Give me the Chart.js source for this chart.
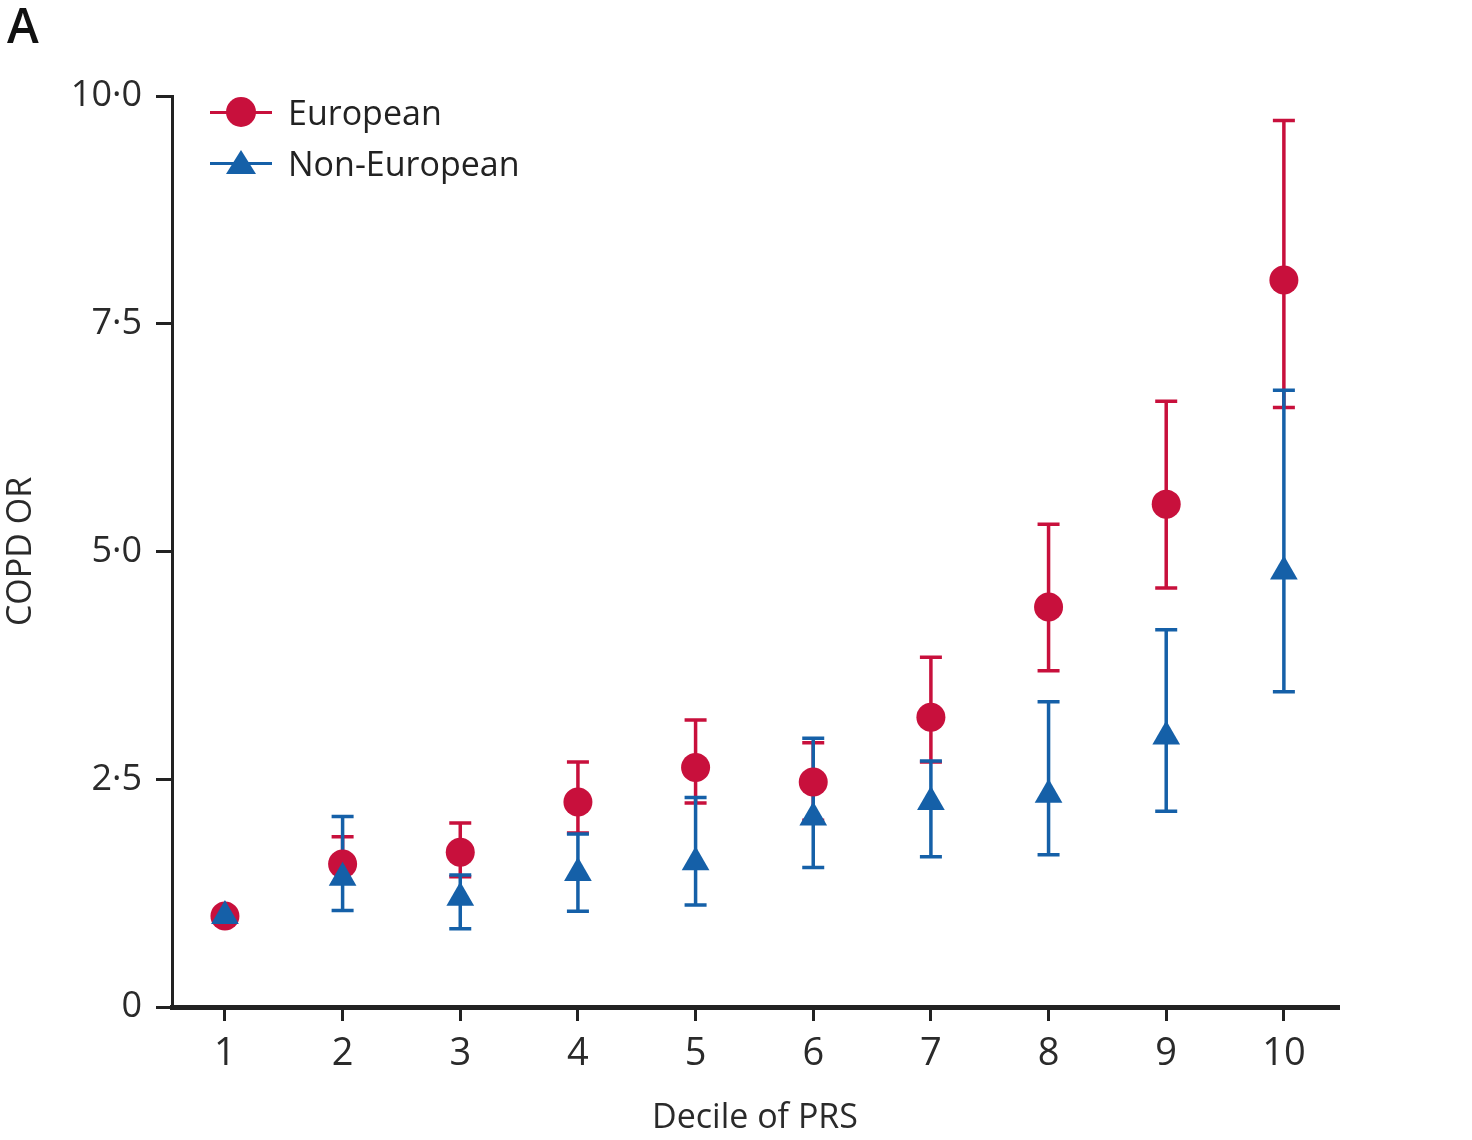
<!DOCTYPE html>
<html>
<head>
<meta charset="utf-8">
<script src="https://cdn.jsdelivr.net/npm/chart.js@4.4.1/dist/chart.umd.min.js"></script>
<style>
  html, body { margin: 0; padding: 0; background: #fff; }
  #wrap { position: relative; width: 1472px; height: 1140px; }
  #panel { position: absolute; left: 7px; top: 1px; font: 600 48px "Open Sans"; line-height: 1; color: #111; }
  #legend { position: absolute; left: 210px; top: 86px; font: 34px "Open Sans"; color: #222; }
  .item { position: relative; height: 51px; display: flex; align-items: center; }
  .key { position: relative; width: 62px; height: 40px; margin-right: 16px; }
  .key .line { position: absolute; left: 0; right: 0; top: 19px; height: 3px; }
  .key .dot { position: absolute; left: 16px; top: 5px; width: 30px; height: 30px; border-radius: 50%; }
  .key .tri { position: absolute; left: 16px; top: 7px; width: 0; height: 0;
              border-left: 15px solid transparent; border-right: 15px solid transparent; border-bottom: 24px solid #1560a8; }
</style>
</head>
<body>
<div id="wrap">
  <canvas id="chart" width="1472" height="1140"></canvas>
  <div id="panel">A</div>
  <div id="legend">
    <div class="item"><div class="key"><div class="line" style="background:#c8103c"></div><div class="dot" style="background:#c8103c"></div></div>European</div>
    <div class="item"><div class="key"><div class="line" style="background:#1560a8"></div><div class="tri"></div></div>Non-European</div>
  </div>
</div>
<script>
// DATA
const deciles = [1, 2, 3, 4, 5, 6, 7, 8, 9, 10];
const euroOR = [1.0, 1.57, 1.70, 2.25, 2.63, 2.47, 3.18, 4.39, 5.52, 7.98];
const euroLow = [1.0, 1.36, 1.43, 1.91, 2.24, 2.05, 2.69, 3.69, 4.60, 6.58];
const euroHigh = [1.0, 1.87, 2.02, 2.69, 3.15, 2.90, 3.84, 5.30, 6.65, 9.73];
const nonEuroOR = [1.0, 1.42, 1.20, 1.47, 1.59, 2.08, 2.25, 2.33, 2.97, 4.78];
const nonEuroLow = [1.0, 1.06, 0.86, 1.05, 1.12, 1.53, 1.65, 1.67, 2.15, 3.46];
const nonEuroHigh = [1.0, 2.09, 1.45, 1.90, 2.30, 2.95, 2.70, 3.35, 4.14, 6.77];
const yTicks = [0, 2.5, 5, 7.5, 10];

const RED = "#c8103c";
const BLUE = "#1560a8";

function pts(vals) {
  return deciles.map((d, i) => ({ x: d, y: vals[i] }));
}

// error bars drawn under the markers, through the chart scales
const errorBars = {
  id: "errorBars",
  beforeDatasetsDraw(chart) {
    const ctx = chart.ctx;
    const xs = chart.scales.x, ys = chart.scales.y;
    const sets = [
      { low: euroLow, high: euroHigh, color: RED },
      { low: nonEuroLow, high: nonEuroHigh, color: BLUE }
    ];
    ctx.save();
    ctx.lineWidth = 3.5;
    sets.forEach(s => {
      ctx.strokeStyle = s.color;
      deciles.forEach((d, i) => {
        if (s.low[i] === s.high[i]) return;
        const x = xs.getPixelForValue(d);
        const y1 = ys.getPixelForValue(s.low[i]);
        const y2 = ys.getPixelForValue(s.high[i]);
        ctx.beginPath();
        ctx.moveTo(x, y1); ctx.lineTo(x, y2);
        ctx.moveTo(x - 11, y1); ctx.lineTo(x + 11, y1);
        ctx.moveTo(x - 11, y2); ctx.lineTo(x + 11, y2);
        ctx.stroke();
      });
    });
    ctx.restore();
  }
};

new Chart(document.getElementById("chart"), {
  type: "scatter",
  data: {
    datasets: [
      {
        label: "European",
        data: pts(euroOR),
        backgroundColor: RED,
        borderWidth: 0,
        pointRadius: 14.5,
        pointStyle: "circle",
        order: 1
      },
      {
        label: "Non-European",
        data: pts(nonEuroOR),
        backgroundColor: BLUE,
        borderWidth: 0,
        pointRadius: 16,
        pointStyle: "triangle",
        order: 0
      }
    ]
  },
  options: {
    responsive: false,
    animation: false,
    layout: { padding: { top: 96, right: 134, left: 0, bottom: 0 } },
    plugins: {
      legend: { display: false },
      tooltip: { enabled: false }
    },
    scales: {
      x: {
        type: "linear",
        min: 0.55,
        max: 10.46,
        afterBuildTicks: s => { s.ticks = deciles.map(v => ({ value: v })); },
        afterFit: s => { s.height = 133; },
        border: { color: "#222", width: 5 },
        grid: { drawOnChartArea: false, drawTicks: true, tickLength: 14, lineWidth: 3, color: "#222" },
        ticks: { color: "#2a2a2a", font: { family: "Open Sans", size: 38 }, padding: 10 },
        title: {
          display: true,
          text: "Decile of PRS",
          color: "#2a2a2a",
          font: { family: "Open Sans", size: 34 },
          padding: { top: 0, bottom: 1 }
        }
      },
      y: {
        min: 0,
        max: 10,
        afterBuildTicks: s => { s.ticks = yTicks.map(v => ({ value: v })); },
        afterFit: s => { s.width = 172; },
        border: { color: "#222", width: 3 },
        grid: { drawOnChartArea: false, drawTicks: true, tickLength: 16, lineWidth: 3, color: "#222" },
        ticks: {
          color: "#2a2a2a",
          font: { family: "Open Sans", size: 36 },
          padding: 14,
          callback: v => v === 0 ? "0" : v.toFixed(1).replace(".", "·")
        },
        title: {
          display: true,
          text: "COPD OR",
          color: "#2a2a2a",
          font: { family: "Open Sans", size: 34 },
          padding: { top: 1, bottom: 0 }
        }
      }
    }
  },
  plugins: [errorBars]
});
</script>
</body>
</html>
